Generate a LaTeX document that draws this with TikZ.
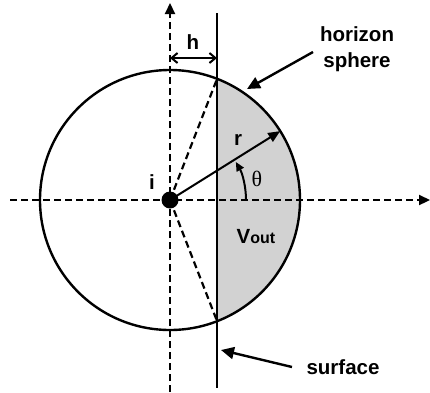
\documentclass[tikz,border=0pt]{standalone}
\usepackage{fontspec}
\setmainfont{Liberation Sans}
\newfontfamily\grk{Liberation Serif}
\usetikzlibrary{arrows.meta,calc}
\begin{document}
\begin{tikzpicture}[x=1pt,y=1pt,
  lbl/.style={font=\fontsize{20.5}{26}\selectfont\bfseries, inner sep=0pt},
  axis/.style={line width=2.2pt, dash pattern=on 7pt off 4pt, -{Triangle[length=11pt,width=10pt]}},
  guide/.style={line width=2.2pt, dash pattern=on 7pt off 4pt},
  solid line/.style={line width=2pt},
  pointer/.style={line width=2.4pt, -{Triangle[length=13pt,width=12pt]}}]
\useasboundingbox (0,0) rectangle (430,-392);
\coordinate (c) at (170,-200);
% shaded segment
\begin{scope}
  \clip (217,0) rectangle (430,-392);
  \fill[gray!35] (c) circle[radius=130];
\end{scope}
% sphere
\draw[line width=2.4pt] (c) circle[radius=130];
% intersections and surface
\coordinate (p1) at (217,-79);
\coordinate (p2) at (217,-321);
\coordinate (sT) at (217,-13);
\coordinate (sB) at (217,-388);
\draw[solid line] (sT) -- (sB);
% axes
\coordinate (vB) at (170,-392);
\coordinate (vT) at (170,-3);
\coordinate (hL) at (10,-200);
\coordinate (hR) at (430,-200);
\draw[axis] (vB) -- (vT);
\draw[axis] (hL) -- (hR);
% dashed guides
\draw[guide] (c) -- (p1);
\draw[guide] (c) -- (p2);
% h dimension
\coordinate (h1) at (170,-58);
\coordinate (h2) at (217,-58);
\draw[line width=2pt, {Straight Barb[length=6pt,width=10pt]}-{Straight Barb[length=6pt,width=10pt]}] (h1) -- (h2);
\node[lbl] (h) at (193,-42) {h};
% radius
\coordinate (rE) at ($(c)+(32:130)$);
\draw[line width=2pt, -{Triangle[length=12pt,width=10pt]}] (c) -- (rE);
\node[lbl] (r) at (238,-140) {r};
% theta arc
\draw[line width=2pt, -{Triangle[length=9pt,width=8pt]}] ([shift={(0:76)}]c) arc[start angle=0,end angle=30,radius=76];
\node[inner sep=0pt, font=\grk\fontsize{22}{26}\selectfont] (th) at (257,-179) {θ};
% center dot
\node[circle, fill=black, minimum size=17pt, inner sep=0pt] (i0) at (c) {};
\node[lbl] (i) at (152,-182) {i};
% Vout
\node[lbl, anchor=base] (v) at (256,-243) {V{\fontsize{16}{18}\selectfont out}};
% labels with pointers
\node[lbl, align=center] (hs) at (357,-49) {horizon\\sphere};
\coordinate (hsA) at (313,-52);
\coordinate (hsB) at (247,-89);
\draw[pointer] (hsA) -- (hsB);
\node[lbl] (sf) at (343,-367) {surface};
\coordinate (sfA) at (292,-367);
\coordinate (sfB) at (221,-350);
\draw[pointer] (sfA) -- (sfB);
\end{tikzpicture}
\end{document}
